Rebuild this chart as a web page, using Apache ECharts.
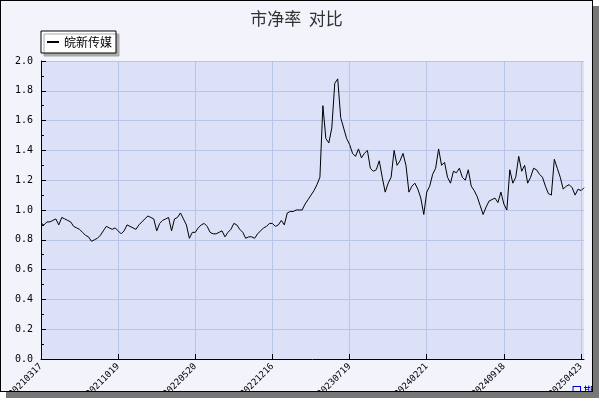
<!DOCTYPE html>
<html><head><meta charset="utf-8">
<script src="https://cdn.jsdelivr.net/npm/echarts@6/dist/echarts.min.js"></script>
<style>
html,body{margin:0;padding:0;background:#fff;}
#frame{position:absolute;left:0;top:0;width:591px;height:390px;border:1px solid #000;background:#f2f3fb;box-shadow:6px 6px 0 #777;}
#c{width:591px;height:390px;}
</style></head><body>
<div id="frame"><div id="c"></div></div>
<script>
const seriesName = '皖新传媒';
const tickLabels = ['20210317','20211019','20220520','20221216','20230719','20240221','20240918','20250423'];
const values = [
0.91,0.90,0.92,0.92,0.93,0.94,0.90,0.95,0.94,0.93,0.92,0.89,0.88,0.87,0.85,0.83,0.82,0.79,0.80,0.81,
0.83,0.86,0.89,0.88,0.87,0.88,0.86,0.84,0.86,0.90,0.89,0.88,0.87,0.90,0.92,0.94,0.96,0.95,0.94,0.86,
0.91,0.93,0.94,0.95,0.86,0.94,0.95,0.98,0.94,0.90,0.81,0.85,0.85,0.88,0.90,0.91,0.89,0.85,0.84,0.84,
0.85,0.86,0.82,0.85,0.87,0.91,0.90,0.87,0.85,0.81,0.82,0.82,0.81,0.84,0.86,0.88,0.89,0.91,0.91,0.89,
0.90,0.93,0.90,0.98,0.99,0.99,1.00,1.00,1.00,1.04,1.07,1.10,1.13,1.17,1.22,1.70,1.48,1.45,1.55,1.85,
1.88,1.62,1.55,1.48,1.44,1.38,1.36,1.41,1.35,1.38,1.40,1.28,1.26,1.27,1.33,1.22,1.12,1.18,1.22,1.40,
1.30,1.33,1.38,1.30,1.12,1.16,1.18,1.14,1.08,0.97,1.12,1.16,1.24,1.28,1.41,1.30,1.32,1.22,1.18,1.26,
1.25,1.28,1.22,1.20,1.27,1.16,1.13,1.09,1.03,0.97,1.02,1.06,1.07,1.08,1.05,1.12,1.04,1.00,1.27,1.18,
1.22,1.36,1.26,1.30,1.18,1.22,1.28,1.27,1.24,1.22,1.16,1.11,1.10,1.34,1.28,1.22,1.14,1.16,1.17,1.15,
1.10,1.14,1.13,1.15];
const step = 26;
const categories = values.map((v,i)=> i%step===0 ? (tickLabels[i/step]||'') : '');
const chart = echarts.init(document.getElementById('c'));
chart.setOption({
  animation:false,
  title:{text:'市净率  对比',left:'center',top:4,textStyle:{fontSize:17,fontWeight:'normal',color:'#333',fontFamily:'Noto Sans CJK SC'}},
  legend:{left:40,top:30,itemWidth:12,itemHeight:2,icon:'rect',backgroundColor:'#fff',borderColor:'#000',borderWidth:1,borderRadius:0,padding:[5,4,5,6],
    shadowColor:'#aaa',shadowOffsetX:3,shadowOffsetY:3,shadowBlur:0,
    textStyle:{fontSize:12,color:'#000',fontFamily:'Noto Sans CJK SC'},data:[seriesName]},
  grid:{left:40,right:8,top:60,bottom:32,containLabel:false,outerBoundsMode:'none',show:true,backgroundColor:'#dce1f7',borderWidth:0},
  xAxis:{type:'category',data:categories,boundaryGap:false,
    name:'日期',nameLocation:'end',nameGap:-22,nameTextStyle:{color:'#0000cc',fontSize:13,verticalAlign:'top',padding:[26,0,0,0],fontFamily:'Noto Sans CJK SC'},
    axisLine:{lineStyle:{color:'#000'}},
    axisTick:{inside:true,length:5,interval:(i)=>i%step===0,lineStyle:{color:'#000'}},
    axisLabel:{interval:(i)=>i%step===0,rotate:45,fontSize:9,color:'#000',fontFamily:'DejaVu Sans Mono',margin:6},
    splitLine:{show:true,interval:(i)=>i%step===0,lineStyle:{color:'#b8c4e8'}}},
  yAxis:{type:'value',min:0,max:2,interval:0.2,
    axisLine:{show:true,lineStyle:{color:'#000'}},
    axisTick:{show:true,inside:true,length:5,lineStyle:{color:'#000'}},
    minorTick:{show:true,splitNumber:2,length:3,lineStyle:{color:'#000'}},
    axisLabel:{formatter:v=>v.toFixed(1),fontSize:10,color:'#000',fontFamily:'DejaVu Sans Mono'},
    splitLine:{show:true,lineStyle:{color:'#b8c4e8'}}},
  series:[{name:seriesName,type:'line',data:values,symbol:'none',lineStyle:{color:'#000',width:1},itemStyle:{color:'#000'}}]
});
</script></body></html>
